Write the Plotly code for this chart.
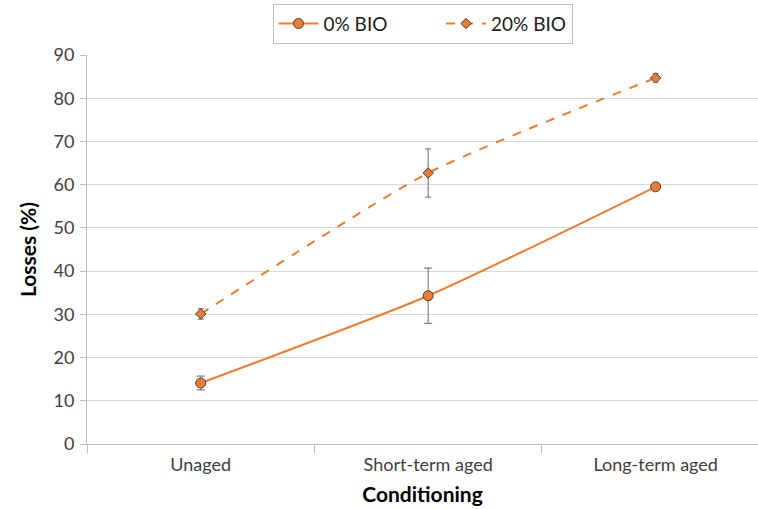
import plotly.graph_objects as go

categories = ["Unaged", "Short-term aged", "Long-term aged"]
bio0 = [14.1, 34.3, 59.5]
bio0_err = [1.6, 6.4, 0.5]
bio20 = [30.1, 62.7, 84.7]
bio20_err = [1.2, 5.6, 1.0]

orange = "#ED7D31"
font_family = "Lato, 'Open Sans', sans-serif"
pad = "\u00a0" * 10

fig = go.Figure()
fig.add_trace(go.Scatter(
    x=categories, y=bio0, name="0% BIO" + pad, mode="lines+markers",
    line=dict(color=orange, width=2, shape="spline", smoothing=0.6),
    marker=dict(symbol="circle", size=10, color=orange, line=dict(color="#404040", width=1)),
    error_y=dict(type="data", array=bio0_err, visible=True, color="#808080", thickness=1.2, width=4),
))
fig.add_trace(go.Scatter(
    x=categories, y=bio20, name="20% BIO", mode="lines+markers",
    line=dict(color=orange, width=2, dash="dash", shape="spline", smoothing=0.6),
    marker=dict(symbol="diamond", size=8, color=orange, line=dict(color="#404040", width=1)),
    error_y=dict(type="data", array=bio20_err, visible=True, color="#808080", thickness=1.2, width=3),
))

fig.update_layout(
    width=758, height=509,
    margin=dict(l=87, r=0, t=55, b=65),
    paper_bgcolor="white", plot_bgcolor="white",
    font=dict(family=font_family, size=18, color="#404040"),
    legend=dict(orientation="h", x=0.5, xanchor="center", y=1.132, yanchor="top",
                bordercolor="#BFBFBF", borderwidth=1, font=dict(size=19, color="#202020"),
                itemwidth=40),
    xaxis=dict(
        range=[-0.5, 2.45], type="category", tickson="boundaries", ticks="outside",
        ticklen=8, tickcolor="#BFBFBF", showline=True, linecolor="#BFBFBF", linewidth=1,
        showgrid=False, tickfont=dict(size=18, color="#404040"), ticklabelstandoff=4,
        title=dict(text="<b>Conditioning</b>", font=dict(size=21, color="#000000"), standoff=13),
    ),
    yaxis=dict(
        range=[0, 90], dtick=10, ticks="outside", ticklen=6, tickcolor="#BFBFBF",
        showline=True, linecolor="#BFBFBF", linewidth=1,
        showgrid=True, gridcolor="#D9D9D9", gridwidth=1, zeroline=False,
        tickfont=dict(size=18, color="#404040"), ticklabelstandoff=2,
        title=dict(text="<b>Losses (%)</b>", font=dict(size=21, color="#000000"), standoff=11),
    ),
)

fig.write_html("out.html")
